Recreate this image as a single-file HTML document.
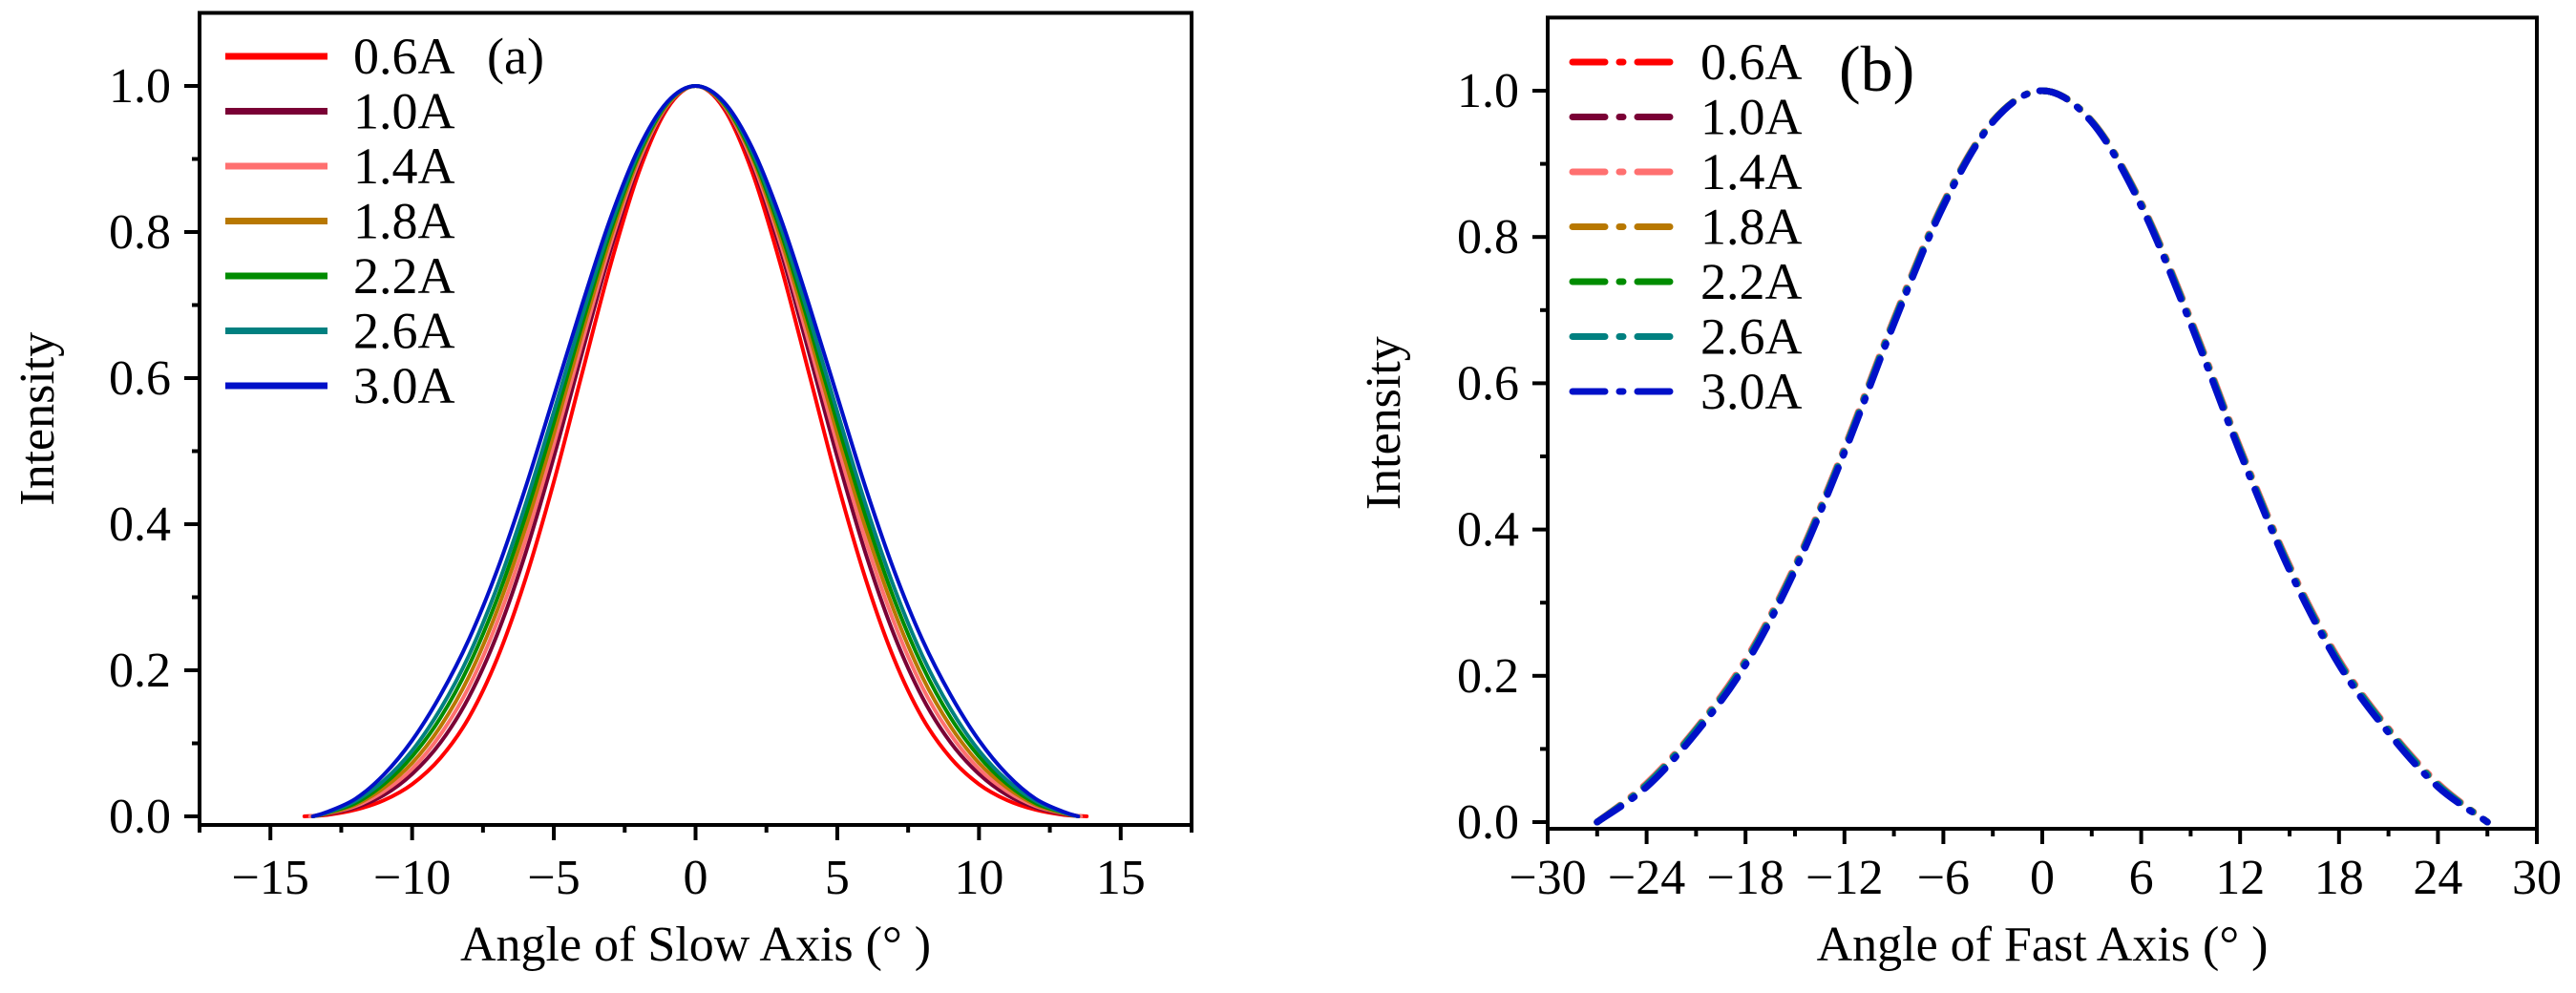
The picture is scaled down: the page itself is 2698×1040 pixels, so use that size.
<!DOCTYPE html>
<html><head><meta charset="utf-8">
<style>
html,body{margin:0;padding:0;background:#fff;}
svg{display:block;}
text{font-family:"Liberation Serif","Noto Serif CJK SC",serif;fill:#000;}
</style></head>
<body>
<svg id="chart" width="2698" height="1040" viewBox="0 0 2698 1040" xmlns="http://www.w3.org/2000/svg">
<g id="pa"></g>
<g id="pb"></g>
</svg>
<script>
const seriesNames = ["0.6A","1.0A","1.4A","1.8A","2.2A","2.6A","3.0A"];
const seriesColors = ["#ff0000","#7a0035","#ff7070","#b87800","#008c00","#008080","#0010c8"];
// slow axis: half profiles at angle 0..13 deg (mirrored), last point = end angle, 0
const slowX = [0,1,2,3,4,5,6,7,8,9,10,11,12,13];
const slowEnd = [13.8,13.6,13.6,13.5,13.5,13.5,13.5];
const slow06 = [1,.969,.882,.755,.607,.458,.325,.216,.135,.080,.044,.022,.009,.002];
const slow10 = [1,.972,.893,.775,.635,.492,.360,.249,.163,.101,.058,.029,.012,.003];
const slow14 = [1,.973,.897,.784,.649,.509,.378,.266,.177,.112,.065,.034,.014,.004];
const slow18 = [1,.974,.902,.792,.662,.524,.395,.282,.191,.123,.073,.039,.016,.004];
const slow22 = [1,.976,.906,.801,.674,.539,.411,.298,.206,.135,.082,.044,.018,.005];
const slow26 = [1,.977,.910,.808,.685,.554,.427,.314,.220,.147,.090,.049,.021,.005];
const slow30 = [1,.978,.915,.819,.701,.575,.450,.337,.242,.166,.104,.057,.024,.006];
// fast axis: half profiles at 0..27 deg step 3
const fastX = [0,3,6,9,12,15,18,21,24,27];
const fast06 = [1,.958,.846,.686,.510,.349,.220,.127,.052,0];
const fast10 = [1,.958,.845,.685,.509,.348,.219,.126,.051,0];
const fast14 = [1,.959,.847,.688,.512,.351,.222,.128,.053,0];
const fast18 = [1,.958,.845,.685,.509,.348,.219,.126,.051,0];
const fast22 = [1,.958,.844,.684,.508,.347,.218,.125,.050,0];
const fast26 = [1,.958,.845,.685,.509,.348,.219,.126,.051,0];
const fast30 = [1,.957,.842,.681,.505,.344,.215,.122,.048,0];
const slowTicks = [-15,-10,-5,0,5,10,15];
const fastTicks = [-30,-24,-18,-12,-6,0,6,12,18,24,30];
const yTicks = [0,0.2,0.4,0.6,0.8,1.0];
const yTickLabels = ["0.0","0.2","0.4","0.6","0.8","1.0"];

const NS="http://www.w3.org/2000/svg";
function mk(parent,tag,attrs,txt){const e=document.createElementNS(NS,tag);for(const k in attrs)e.setAttribute(k,attrs[k]);if(txt!==undefined)e.textContent=txt;parent.appendChild(e);return e;}

function panel(g,cfg){
  const sx=v=>cfg.x0+(v-cfg.xmin)/(cfg.xmax-cfg.xmin)*(cfg.x1-cfg.x0);
  const sy=v=>cfg.yZero-v*cfg.yUnit;
  const yTop=sy(1.1), yBot=cfg.yBot;
  const fr=mk(g,'rect',{x:cfg.x0,y:yTop,width:cfg.x1-cfg.x0,height:yBot-yTop,fill:'none',stroke:'#000','stroke-width':4});
  
  
  yTicks.forEach((v,i)=>{
    const t=mk(g,'line',{x1:cfg.x0-16,x2:cfg.x0,y1:sy(v),y2:sy(v),stroke:'#000','stroke-width':4});
    
    
    const l=mk(g,'text',{x:cfg.x0-30,y:sy(v)+17,'text-anchor':'end','font-size':52},yTickLabels[i]);
    
    
    if(i<yTicks.length-1){
      const m=mk(g,'line',{x1:cfg.x0-8,x2:cfg.x0,y1:sy(v+0.1),y2:sy(v+0.1),stroke:'#000','stroke-width':4});
      
      
    }
  });
  const step=cfg.xt[1]-cfg.xt[0];
  for(let v=cfg.xmin;v<=cfg.xmax+1e-6;v+=step/2){
    const major=cfg.xt.some(t=>Math.abs(t-v)<1e-6);
    const t=mk(g,'line',{x1:sx(v),x2:sx(v),y1:yBot,y2:yBot+(major?16:8),stroke:'#000','stroke-width':4});
    
    
  }
  cfg.xt.forEach(v=>{
    const l=mk(g,'text',{x:sx(v),y:936,'text-anchor':'middle','font-size':52},v<0?'\u2212'+(-v):String(v));
    
    
  });
  const xt=mk(g,'text',{x:(cfg.x0+cfg.x1)/2,y:1006,'text-anchor':'middle','font-size':52},cfg.xtitle);
  
  
  const yt=mk(g,'text',{x:0,y:0,'text-anchor':'middle','font-size':52,transform:`translate(${cfg.ytx},${(yTop+yBot)/2}) rotate(-90)`},'Intensity');
  
  
  cfg.series.forEach((ys,si)=>{
    const pts=[];
    const xs=cfg.xs.slice(), vs=ys.slice();
    if(cfg.ends){xs.push(cfg.ends[si]);vs.push(0);}
    for(let i=xs.length-1;i>0;i--)pts.push([sx(-xs[i]),sy(vs[i])]);
    for(let i=0;i<xs.length;i++)pts.push([sx(xs[i]),sy(vs[i])]);
    let d=`M${pts[0][0]},${pts[0][1]}`;
    for(let i=0;i<pts.length-1;i++){
      const p0=pts[Math.max(i-1,0)],p1=pts[i],p2=pts[i+1],p3=pts[Math.min(i+2,pts.length-1)];
      d+=` C${p1[0]+(p2[0]-p0[0])/6},${p1[1]+(p2[1]-p0[1])/6} ${p2[0]-(p3[0]-p1[0])/6},${p2[1]-(p3[1]-p1[1])/6} ${p2[0]},${p2[1]}`;
    }
    const a={d:d,fill:'none',stroke:seriesColors[si],'stroke-width':cfg.dash?7:4,'stroke-linecap':'round'};
    if(cfg.dash)a['stroke-dasharray']=cfg.dash;
    const p=mk(g,'path',a);
    
    
  });
  seriesNames.forEach((n,i)=>{
    const y=cfg.legY+i*57.5;
    const a={x1:cfg.legX,x2:cfg.legX+107,y1:y,y2:y,stroke:seriesColors[i],'stroke-width':7};
    if(cfg.dash){a['stroke-dasharray']='34 15 4 15';a['stroke-linecap']='round';}
    const l=mk(g,'line',a);
    
    
    const t=mk(g,'text',{x:cfg.legX+134,y:y+18,'font-size':54},n);
    
    
  });
  const lab=mk(g,'text',{x:cfg.labX,y:cfg.labY,'font-size':cfg.labSize},cfg.label);
  
  
}

panel(document.getElementById('pa'),{x0:209,x1:1248,xmin:-17.5,xmax:17.5,yZero:855,yUnit:765,yBot:864,
  xt:slowTicks,xtitle:'Angle of Slow Axis (° )',ytx:56,xs:slowX,ends:slowEnd,
  series:[slow06,slow10,slow14,slow18,slow22,slow26,slow30],legX:236,legY:59,
  label:'(a)',labX:510,labY:77,labSize:54});
panel(document.getElementById('pb'),{x0:1621,x1:2657,xmin:-30,xmax:30,yZero:861,yUnit:766,yBot:868,
  xt:fastTicks,xtitle:'Angle of Fast Axis (° )',ytx:1466,xs:fastX,ends:null,
  series:[fast06,fast10,fast14,fast18,fast22,fast26,fast30],dash:'30 14 3 14',legX:1647,legY:65,
  label:'(b)',labX:1926,labY:95,labSize:68});
</script>
</body></html>
